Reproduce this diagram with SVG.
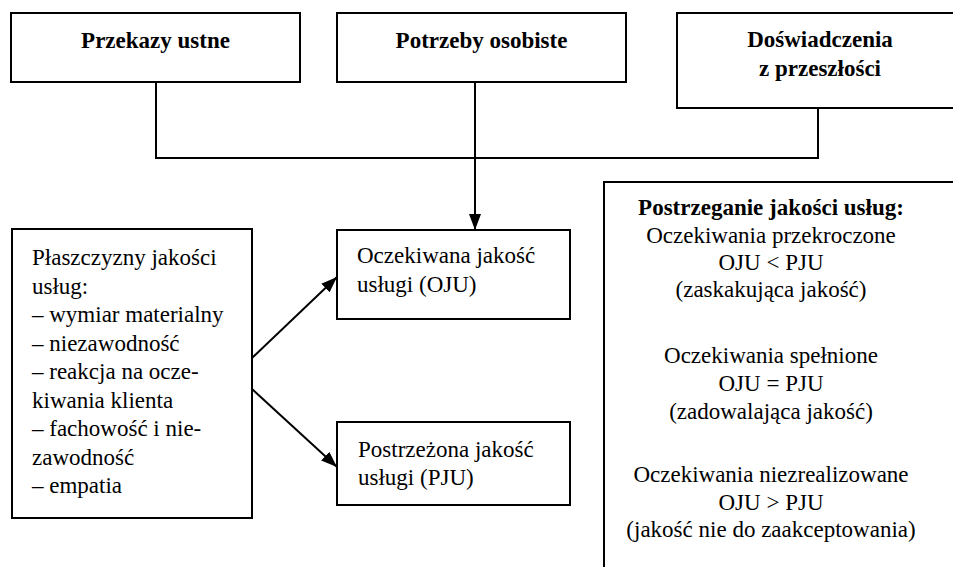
<svg xmlns="http://www.w3.org/2000/svg" width="953" height="567" viewBox="0 0 953 567">
<style>
.box{fill:#fff;stroke:#000;stroke-width:2}
.t{font-family:"Liberation Serif",Tinos,"Times New Roman",Times,"Noto Serif","DejaVu Serif",serif;font-size:23px;fill:#000}
.b{font-weight:bold}
.c{text-anchor:middle}
.ln{fill:none;stroke:#000;stroke-width:2}
</style>
<defs>
<marker id="ah" viewBox="0 0 16 12" refX="16" refY="6" markerWidth="16" markerHeight="12" markerUnits="userSpaceOnUse" orient="auto">
<path d="M0,0 L16,6 L0,12 Z" fill="#000"/>
</marker>
</defs>
<rect width="953" height="567" fill="#fff"/>
<g id="connectors">
<polyline class="ln" points="156,82 156,158 818,158 818,108"/>
<line class="ln" x1="475" y1="82" x2="475" y2="230" marker-end="url(#ah)"/>
<line class="ln" x1="252" y1="358" x2="337" y2="277" marker-end="url(#ah)"/>
<line class="ln" x1="252" y1="389" x2="337" y2="467" marker-end="url(#ah)"/>
</g>
<g id="przekazy">
<rect class="box" x="11" y="13" width="289" height="69"/>
<text class="t b c" x="155.5" y="48">Przekazy ustne</text>
</g>
<g id="potrzeby">
<rect class="box" x="337" y="13" width="289" height="69"/>
<text class="t b c" x="481.5" y="48">Potrzeby osobiste</text>
</g>
<g id="doswiadczenia">
<rect class="box" x="677" y="13" width="290" height="95"/>
<text class="t b c" x="820" y="47">Doświadczenia</text>
<text class="t b c" x="820" y="76">z przeszłości</text>
</g>
<g id="plaszczyzny">
<rect class="box" x="12" y="229" width="240" height="289"/>
<text class="t" x="32" y="265">Płaszczyzny jakości</text>
<text class="t" x="32" y="293.5">usług:</text>
<text class="t" x="32" y="322">– wymiar materialny</text>
<text class="t" x="32" y="350.5">– niezawodność</text>
<text class="t" x="32" y="379">– reakcja na ocze-</text>
<text class="t" x="32" y="407.5">kiwania klienta</text>
<text class="t" x="32" y="436">– fachowość i nie-</text>
<text class="t" x="32" y="464.5">zawodność</text>
<text class="t" x="32" y="493">– empatia</text>
</g>
<g id="oju">
<rect class="box" x="337" y="230" width="233" height="89"/>
<text class="t" x="357" y="263">Oczekiwana jakość</text>
<text class="t" x="357" y="292">usługi (OJU)</text>
</g>
<g id="pju">
<rect class="box" x="337" y="422" width="233" height="83"/>
<text class="t" x="358" y="457">Postrzeżona jakość</text>
<text class="t" x="358" y="485">usługi (PJU)</text>
</g>
<g id="postrzeganie">
<rect class="box" x="604" y="182" width="370" height="400"/>
<text class="t b c" x="771" y="215">Postrzeganie jakości usług:</text>
<text class="t c" x="771" y="243">Oczekiwania przekroczone</text>
<text class="t c" x="771" y="270">OJU &lt; PJU</text>
<text class="t c" x="771" y="297">(zaskakująca jakość)</text>
<text class="t c" x="771" y="363">Oczekiwania spełnione</text>
<text class="t c" x="771" y="391">OJU = PJU</text>
<text class="t c" x="771" y="419">(zadowalająca jakość)</text>
<text class="t c" x="771" y="482">Oczekiwania niezrealizowane</text>
<text class="t c" x="771" y="510">OJU &gt; PJU</text>
<text class="t c" x="771" y="537">(jakość nie do zaakceptowania)</text>
</g>
</svg>
